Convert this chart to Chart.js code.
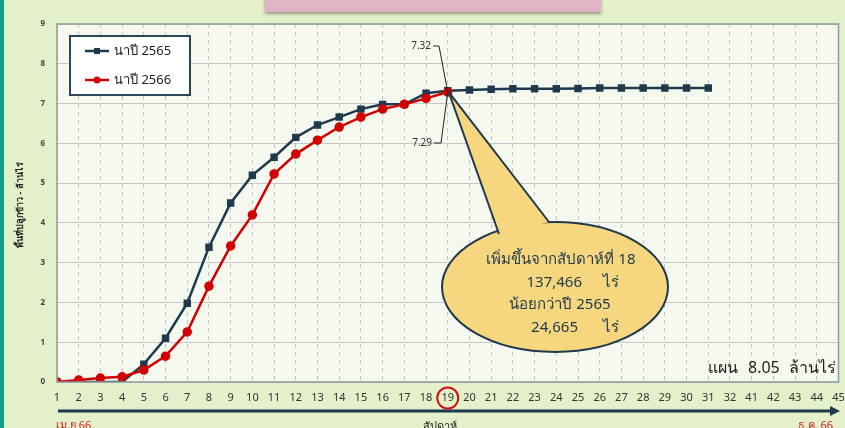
<!DOCTYPE html>
<html>
<head>
<meta charset="utf-8">
<script src="https://cdn.jsdelivr.net/npm/chart.js@4.4.1/dist/chart.umd.min.js"></script>
<style>
  html, body { margin: 0; padding: 0; background: #e3f0c9; }
  #wrap { position: relative; width: 845px; height: 428px; overflow: hidden; }
</style>
</head>
<body>
<div id="wrap"><canvas id="riceChart" width="845" height="428"></canvas></div>
<script>
// สัปดาห์ (แกน X)
const weekLabels = ['1','2','3','4','5','6','7','8','9','10','11','12','13','14','15','16','17','18','19','20','21','22','23','24','25','26','27','28','29','30','31','32','41','42','43','44','45'];

// พื้นที่ปลูกข้าว (ล้านไร่)
const nap2565 = [0, 0, 0, 0, 0.45, 1.1, 1.98, 3.39, 4.5, 5.2, 5.65, 6.15, 6.46, 6.66, 6.86, 6.98, 6.98, 7.26, 7.32,
  7.34, 7.36, 7.37, 7.37, 7.37, 7.38, 7.39, 7.39, 7.39, 7.39, 7.39, 7.39];
const nap2566 = [0, 0.05, 0.1, 0.13, 0.3, 0.65, 1.26, 2.41, 3.42, 4.2, 5.23, 5.73, 6.08, 6.41, 6.66, 6.86, 6.98, 7.13, 7.29];

const yTicks = [0, 1, 2, 3, 4, 5, 6, 7, 8, 9];
const seriesNames = ['นาปี 2565', 'นาปี 2566'];
const calloutLines = [['เพิ่มขึ้นจากสัปดาห์ที่ 18'], ['137,466', 'ไร่'], ['น้อยกว่าปี 2565'], ['24,665', 'ไร่']];
const planParts = ['แผน', '8.05', 'ล้านไร่'];

const NAVY = '#1e3a4c';
const RED = '#d00000';
const FONT = "Tahoma, 'Noto Sans', 'DejaVu Sans', sans-serif";

function toPoints(arr) {
  return arr.map((v, i) => ({ x: i, y: v }));
}

// วาดพื้นหลัง กรอบ คำอธิบาย และกล่องข้อความ
const decor = {
  id: 'decor',
  beforeDraw(chart) {
    const c = chart.ctx, a = chart.chartArea;
    c.save();
    // แถบซ้าย
    c.fillStyle = '#12a08a';
    c.fillRect(0, 0, 4, 428);
    // กล่องหัวเรื่อง
    c.shadowColor = 'rgba(0,0,0,0.35)';
    c.shadowOffsetY = 2; c.shadowBlur = 3;
    c.fillStyle = '#dfb4c5';
    c.fillRect(265, -4, 336, 16);
    c.shadowColor = 'transparent';
    // พื้นที่กราฟ
    c.fillStyle = '#f5f8ee';
    c.fillRect(a.left, a.top, a.right - a.left, a.bottom - a.top);
    c.restore();
  },
  afterDatasetsDraw(chart) {
    const c = chart.ctx, a = chart.chartArea;
    const xs = chart.scales.x, ys = chart.scales.y;
    c.save();
    // กรอบพื้นที่กราฟ
    c.strokeStyle = '#8c9c9c';
    c.lineWidth = 1.5;
    c.strokeRect(a.left, a.top, a.right - a.left, a.bottom - a.top);

    // ชื่อแกน Y
    c.save();
    c.translate(20, 205);
    c.rotate(-Math.PI / 2);
    c.fillStyle = '#222';
    c.font = 'bold 9px ' + FONT;
    c.textAlign = 'center';
    c.textBaseline = 'middle';
    c.fillText('พื้นที่ปลูกข้าว - ล้านไร่', 0, 0);
    c.restore();

    // คำอธิบาย
    c.fillStyle = '#ffffff';
    c.fillRect(70, 36, 120, 59);
    c.strokeStyle = '#2b4656';
    c.lineWidth = 2;
    c.strokeRect(70, 36, 120, 59);
    const legendRows = [[seriesNames[0], NAVY, 'rect', 51], [seriesNames[1], RED, 'circle', 80]];
    legendRows.forEach(([name, col, shape, ly]) => {
      c.strokeStyle = col; c.lineWidth = 2.5;
      c.beginPath(); c.moveTo(85, ly); c.lineTo(109, ly); c.stroke();
      c.fillStyle = col;
      if (shape === 'rect') c.fillRect(94, ly - 3, 6, 6);
      else { c.beginPath(); c.arc(97, ly, 3.5, 0, Math.PI * 2); c.fill(); }
      c.fillStyle = '#222';
      c.font = '13px ' + FONT;
      c.textAlign = 'left'; c.textBaseline = 'middle';
      c.fillText(name, 114, ly);
    });

    // จุดสัปดาห์ที่ 19
    const px = xs.getPixelForValue(18);
    const py = ys.getPixelForValue(nap2566[18]);

    // ป้ายค่า 7.32 / 7.29
    c.strokeStyle = '#222'; c.lineWidth = 1;
    c.beginPath();
    c.moveTo(433, 46); c.lineTo(439, 46); c.lineTo(px, py); c.lineTo(441, 143); c.lineTo(434, 143);
    c.stroke();
    c.fillStyle = '#333';
    c.font = '10px ' + FONT;
    c.textAlign = 'right'; c.textBaseline = 'middle';
    c.fillText(nap2565[18].toFixed(2), 431, 46);
    c.fillText(nap2566[18].toFixed(2), 432, 143);

    // กล่องข้อความรูปวงรี
    const ex = 555, ey = 287, rx = 113, ry = 65;
    c.beginPath();
    c.ellipse(ex, ey, rx, ry, 0, 0, Math.PI * 2);
    c.fillStyle = '#f6d67e';
    c.fill();
    c.strokeStyle = NAVY; c.lineWidth = 2;
    c.stroke();
    // ลิ่มชี้
    c.beginPath();
    c.moveTo(499, 234);
    c.lineTo(px + 1, py);
    c.lineTo(549, 222);
    c.closePath();
    c.fillStyle = '#f6d67e';
    c.fill();
    c.beginPath();
    c.moveTo(499, 234); c.lineTo(px + 1, py); c.lineTo(549, 222);
    c.stroke();
    c.fillStyle = NAVY;
    c.font = '15px ' + FONT;
    c.textBaseline = 'middle';
    const lineY = [260, 283, 305, 328];
    calloutLines.forEach((parts, i) => {
      if (parts.length === 1) {
        c.textAlign = 'center';
        c.fillText(parts[0], i === 0 ? 561 : 560, lineY[i]);
      } else {
        c.textAlign = 'right';
        c.fillText(parts[0], i === 1 ? 582 : 578, lineY[i]);
        c.textAlign = 'left';
        c.fillText(parts[1], 603, lineY[i]);
      }
    });

    // แผน
    c.fillStyle = '#222';
    c.font = '16px ' + FONT;
    c.textAlign = 'left';
    c.fillText(planParts[0], 708, 368);
    c.fillText(planParts[1], 748, 368);
    c.fillText(planParts[2], 789, 368);

    // วงกลมสัปดาห์ 19
    c.strokeStyle = '#d01010'; c.lineWidth = 2;
    c.beginPath(); c.arc(px, 398, 10.5, 0, Math.PI * 2); c.stroke();

    // ลูกศรแกนเวลา
    c.strokeStyle = '#1e3a4c'; c.lineWidth = 3;
    c.beginPath(); c.moveTo(58, 411); c.lineTo(832, 411); c.stroke();
    c.fillStyle = '#1e3a4c';
    c.beginPath(); c.moveTo(840, 411); c.lineTo(830, 406); c.lineTo(830, 416); c.closePath(); c.fill();

    c.font = '11px ' + FONT;
    c.textBaseline = 'middle';
    c.fillStyle = '#d02020';
    c.textAlign = 'left';
    c.fillText('เม.ย 66', 56, 426);
    c.textAlign = 'right';
    c.fillText('ธ.ค. 66', 833, 426);
    c.fillStyle = '#222';
    c.textAlign = 'center';
    c.fillText('สัปดาห์', 440, 427);
    c.restore();
  }
};

const ctx = document.getElementById('riceChart').getContext('2d');
const chart = new Chart(ctx, {
  type: 'line',
  data: {
    datasets: [
      {
        label: seriesNames[0], data: toPoints(nap2565), order: 2,
        borderColor: NAVY, backgroundColor: NAVY, borderWidth: 2.5,
        pointStyle: 'rect', pointRadius: 3.5, fill: false, tension: 0
      },
      {
        label: seriesNames[1], data: toPoints(nap2566), order: 1,
        borderColor: RED, backgroundColor: RED, borderWidth: 2.5,
        pointStyle: 'circle', pointRadius: 3.5, fill: false, tension: 0
      }
    ]
  },
  options: {
    responsive: false,
    animation: false,
    layout: { padding: { top: 24, right: 6, left: 0, bottom: 0 } },
    plugins: { legend: { display: false }, tooltip: { enabled: false } },
    scales: {
      x: {
        type: 'linear', min: 0, max: weekLabels.length - 1,
        afterFit: (s) => { s.height = 46; s.paddingRight = 0; s.paddingLeft = 0; },
        afterBuildTicks: (s) => { s.ticks = weekLabels.map((_, i) => ({ value: i })); },
        ticks: {
          callback: (v) => weekLabels[v],
          autoSkip: false, maxRotation: 0, padding: 9,
          color: '#333', font: { family: FONT, size: 11 }
        },
        grid: { color: '#c4c4c4', lineWidth: 1, drawTicks: false },
        border: { display: false, dash: [4, 4] }
      },
      y: {
        min: 0, max: 9,
        afterFit: (s) => { s.width = 57; s.paddingTop = 0; s.paddingBottom = 0; },
        afterBuildTicks: (s) => { s.ticks = yTicks.map((v) => ({ value: v })); },
        ticks: {
          padding: 12, color: '#444',
          font: { family: FONT, size: 8, weight: 'bold' }
        },
        grid: { color: '#c8c8c8', lineWidth: 1, drawTicks: false },
        border: { display: false }
      }
    }
  },
  plugins: [decor]
});
</script>
</body>
</html>
